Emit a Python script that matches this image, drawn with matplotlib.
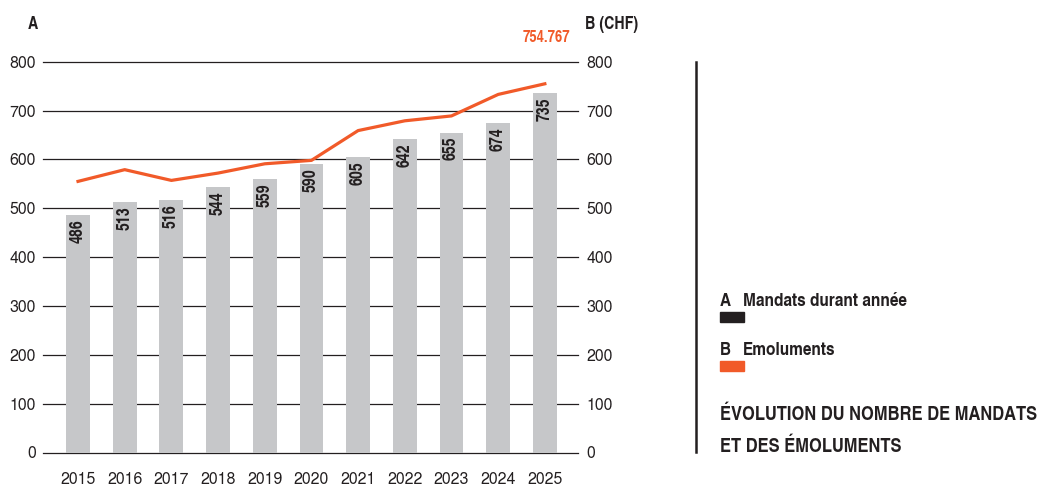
import matplotlib
matplotlib.use("Agg")
import matplotlib.pyplot as plt
from matplotlib.lines import Line2D
from matplotlib.patches import Rectangle

annees = ["2015", "2016", "2017", "2018", "2019", "2020", "2021", "2022", "2023", "2024", "2025"]
mandats = [486, 513, 516, 544, 559, 590, 605, 642, 655, 674, 735]
emoluments = [555, 579, 557, 572, 591, 598, 659, 679, 689, 733, 754.767]
graduations = [0, 100, 200, 300, 400, 500, 600, 700, 800]

gris = "#C6C7C9"
orange = "#F15A29"
noir = "#231F20"
etroit = ["TeX Gyre Heros Cn", "DejaVu Sans"]
normal = ["TeX Gyre Heros", "Liberation Sans", "DejaVu Sans"]

W, H = 1040, 487
fig = plt.figure(figsize=(W / 100, H / 100), dpi=100)


def fx(px):
    return px / W


def fy(py):
    return 1 - py / H


ax = fig.add_axes([fx(43), fy(452.5), fx(578) - fx(43), fy(61.7) - fy(452.5)])
x = list(range(len(annees)))

for g in graduations:
    ax.axhline(g, color=noir, lw=0.9, zorder=0, clip_on=False)

ax.bar(x, mandats, width=0.51, color=gris, zorder=2)
ax.plot(x, emoluments, color=orange, lw=2.3, zorder=3)

for xi, v in zip(x, mandats):
    ax.annotate(str(v), (xi, v), xytext=(0, -3), textcoords="offset points",
                rotation=90, ha="center", va="top", fontsize=12.5,
                fontweight="bold", family=etroit, color=noir, zorder=4)

ax.set_xlim(-0.75, 10.71)
ax.set_ylim(0, 800)
ax.set_yticks(graduations)
ax.set_yticklabels([str(g) for g in graduations], family=normal, fontsize=11.5, color=noir)
ax.set_xticks(x)
ax.set_xticklabels(annees, family=normal, fontsize=11.5, color=noir)
ax.tick_params(axis="y", length=0, pad=5)
ax.tick_params(axis="x", length=0, pad=14)
for s in ax.spines.values():
    s.set_visible(False)

ax2 = ax.twinx()
ax2.set_ylim(0, 800)
ax2.set_yticks(graduations)
ax2.set_yticklabels([str(g) for g in graduations], family=normal, fontsize=11.5, color=noir)
ax2.tick_params(axis="y", length=0, pad=6)
for s in ax2.spines.values():
    s.set_visible(False)

# titres des axes et valeur finale
fig.text(fx(28), fy(29), "A", family=etroit, fontweight="bold", fontsize=12.5, color=noir)
fig.text(fx(585), fy(29), "B (CHF)", family=etroit, fontweight="bold", fontsize=12.5, color=noir)
fig.text(fx(570), fy(42), "754.767", family=etroit, fontweight="bold", fontsize=11.5,
         color=orange, ha="right")

# légende et titre à droite
fig.add_artist(Line2D([fx(696), fx(696)], [fy(62), fy(452)], color=noir, lw=1.8))
fig.text(fx(720), fy(306), "A", family=etroit, fontweight="bold", fontsize=13.5, color=noir)
fig.text(fx(743), fy(306), "Mandats durant année", family=etroit, fontweight="bold",
         fontsize=13.5, color=noir)
fig.patches.append(Rectangle((fx(720), fy(322)), fx(24), 10 / H, color=noir,
                             transform=fig.transFigure, figure=fig))
fig.text(fx(720), fy(355), "B", family=etroit, fontweight="bold", fontsize=13.5, color=noir)
fig.text(fx(743), fy(355), "Emoluments", family=etroit, fontweight="bold",
         fontsize=13.5, color=noir)
fig.patches.append(Rectangle((fx(720), fy(371)), fx(24), 10 / H, color=orange,
                             transform=fig.transFigure, figure=fig))
fig.text(fx(720), fy(420), "ÉVOLUTION DU NOMBRE DE MANDATS", family=etroit,
         fontweight="bold", fontsize=14.5, color=noir)
fig.text(fx(720), fy(451.5), "ET DES ÉMOLUMENTS", family=etroit,
         fontweight="bold", fontsize=14.5, color=noir)

fig.savefig("out.png", dpi=100)
